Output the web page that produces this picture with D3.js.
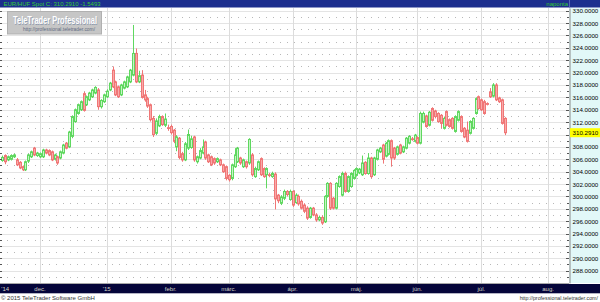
<!DOCTYPE html>
<html>
<head>
<meta charset="utf-8">
<script src="https://cdn.jsdelivr.net/npm/d3@7"></script>
<style>
    body { margin: 0; background: #fff; }
    svg { display: block; }
</style>
</head>
<body>
<div id="CandlestickChart"></div>
<script>
//----------data----------
var symbolName = "EUR/HUF Spot";
var lastQuote = "C: 310.2910 -1.5493";
var periodName = "naponta";
var lastPrice = 310.291;
var firstTradingDay = "2014-11-12";
var monthLabels = ["'14", "dec.", "'15", "febr.", "márc.", "ápr.", "máj.", "jún.", "júl.", "aug."];
var priceTicks = [288, 290, 292, 294, 296, 298, 300, 302, 304, 306, 308, 310, 312, 314, 316, 318, 320, 322, 324, 326, 328, 330];
var minorTicks = [287, 289, 291, 293, 295, 297, 299, 301, 303, 305, 307, 309, 311, 313, 315, 317, 319, 321, 323, 325, 327, 329];

var openPrice = [
    305.8, 306.6, 305.9, 306.0, 306.4, 305.9, 305.5, 304.8, 304.3, 305.7,
    306.4, 307.8, 306.6, 306.4, 306.4, 307.5, 307.4, 307.2, 306.0, 306.4,
    306.2, 307.0, 308.6, 308.0, 309.7, 312.1, 313.4, 314.0, 316.6, 314.8,
    315.6, 316.1, 316.7, 317.2, 314.5, 315.3, 316.1, 317.2, 320.4, 318.5,
    317.7, 316.4, 317.5, 317.7, 318.5, 319.6, 323.1, 318.5, 319.6, 316.4,
    315.8, 314.8, 312.6, 310.2, 311.4, 312.9, 311.5, 311.1, 311.3, 310.7,
    308.0, 309.4, 306.9, 305.9, 307.8, 307.9, 309.6, 305.6, 306.2, 307.0,
    308.8, 306.7, 306.4, 306.1, 305.6, 305.9, 305.1, 304.8, 303.4, 302.9,
    304.8, 305.6, 306.2, 304.8, 305.6, 305.4, 306.7, 303.2, 304.3, 306.1,
    304.5, 303.5, 303.5, 303.2, 303.6, 300.2, 298.9, 299.7, 300.8, 299.5,
    300.8, 299.0, 300.0, 299.2, 298.6, 298.1, 296.6, 298.1, 297.0, 296.2,
    296.6, 295.9, 300.0, 302.1, 299.7, 298.1, 301.6, 300.2, 303.7, 300.8,
    301.6, 302.9, 303.4, 303.8, 303.5, 305.5, 303.7, 306.2, 303.5, 306.0,
    307.2, 308.3, 306.5, 306.8, 309.0, 307.8, 306.8, 308.3, 307.2, 307.8,
    308.6, 309.3, 308.9, 309.5, 308.6, 312.0, 313.0, 311.5, 314.2, 313.8,
    313.4, 313.1, 311.0, 313.7, 312.4, 312.6, 310.5, 312.3, 312.9, 311.0,
    310.7, 310.2, 311.0, 313.4, 316.1, 315.6, 315.3, 315.0, 316.9, 316.2,
    318.0, 315.9, 315.6, 312.6
];
var highPrice = [
    306.6, 306.8, 306.6, 306.8, 306.9, 306.2, 305.7, 305.0, 305.8, 306.9,
    307.4, 308.0, 307.2, 307.1, 307.7, 307.7, 307.6, 307.4, 306.9, 306.6,
    307.4, 308.5, 308.8, 310.6, 313.1, 314.2, 315.0, 315.5, 316.9, 316.3,
    316.9, 317.4, 317.8, 317.5, 315.7, 316.6, 317.3, 318.5, 321.0, 318.7,
    317.9, 318.2, 318.7, 319.5, 320.6, 327.7, 323.9, 320.3, 320.4, 317.2,
    316.1, 315.0, 313.0, 312.6, 313.2, 313.1, 313.4, 311.6, 311.6, 310.9,
    309.9, 309.6, 307.2, 308.8, 310.8, 309.8, 309.8, 306.6, 307.8, 309.2,
    309.0, 306.9, 306.6, 306.3, 306.3, 306.1, 305.3, 305.0, 303.6, 305.3,
    307.8, 308.0, 306.4, 306.1, 305.8, 309.4, 307.0, 304.8, 305.8, 306.3,
    304.7, 304.7, 303.8, 304.0, 303.9, 300.4, 300.2, 301.1, 301.0, 301.1,
    301.0, 300.5, 300.3, 299.5, 298.9, 298.4, 298.3, 298.3, 297.3, 296.9,
    296.9, 300.2, 302.3, 302.3, 299.9, 302.3, 303.4, 304.0, 304.0, 303.4,
    303.9, 304.4, 304.7, 304.6, 306.6, 305.7, 307.0, 306.4, 306.4, 307.7,
    308.0, 308.5, 308.8, 309.2, 309.2, 308.0, 308.2, 308.5, 308.2, 309.6,
    309.9, 309.6, 310.1, 309.7, 313.7, 313.7, 313.2, 313.8, 314.4, 314.0,
    313.6, 313.3, 312.9, 313.9, 312.6, 312.8, 313.1, 313.9, 313.1, 311.2,
    312.1, 312.3, 312.8, 316.0, 316.3, 315.8, 315.6, 315.2, 317.5, 318.3,
    318.3, 316.1, 315.8, 312.8
];
var lowPrice = [
    305.6, 305.2, 305.7, 305.8, 306.2, 304.9, 304.4, 304.1, 304.1, 305.4,
    306.2, 306.5, 306.4, 306.2, 306.2, 306.8, 306.5, 305.7, 305.8, 305.1,
    306.0, 306.8, 307.6, 307.8, 309.4, 311.9, 313.2, 313.8, 313.7, 314.6,
    315.4, 315.9, 316.5, 314.0, 314.2, 315.1, 315.9, 317.0, 317.5, 316.2,
    315.9, 316.2, 317.3, 317.5, 318.3, 319.4, 318.3, 318.3, 315.8, 315.3,
    314.3, 312.1, 309.6, 309.9, 311.2, 311.4, 311.2, 310.6, 310.0, 308.6,
    307.3, 306.0, 305.6, 305.7, 307.5, 307.7, 305.6, 305.3, 306.0, 306.8,
    305.9, 305.4, 304.9, 305.1, 305.4, 304.9, 303.8, 302.6, 302.4, 302.6,
    304.6, 305.4, 305.1, 304.6, 304.5, 305.1, 303.2, 303.0, 304.1, 303.3,
    303.0, 301.3, 303.1, 303.0, 297.9, 298.9, 298.6, 299.4, 300.0, 299.3,
    298.3, 298.8, 298.5, 297.9, 297.3, 296.2, 296.4, 296.8, 295.9, 296.0,
    295.4, 295.7, 299.8, 297.8, 297.9, 297.9, 301.4, 300.0, 300.6, 300.6,
    301.4, 302.7, 303.2, 303.6, 303.3, 303.5, 303.5, 302.9, 303.3, 305.8,
    307.0, 305.3, 306.3, 306.6, 304.8, 305.9, 306.6, 306.8, 307.0, 307.6,
    308.4, 309.0, 308.7, 308.4, 308.4, 311.8, 311.1, 311.3, 312.1, 312.6,
    311.9, 311.0, 310.8, 311.3, 311.1, 310.8, 310.3, 312.1, 310.3, 309.4,
    308.7, 310.0, 310.8, 313.2, 314.0, 313.8, 313.2, 314.7, 315.9, 316.0,
    315.4, 315.1, 311.6, 309.9
];
var closePrice = [
    306.3, 305.6, 306.4, 306.6, 306.7, 305.1, 304.6, 304.3, 305.6, 306.7,
    307.2, 306.7, 307.0, 306.9, 307.5, 307.0, 306.7, 305.9, 306.7, 305.4,
    307.2, 308.3, 307.8, 310.4, 312.9, 314.0, 314.8, 315.3, 313.9, 316.1,
    316.7, 317.2, 317.6, 314.5, 315.5, 316.4, 317.0, 318.3, 317.7, 316.4,
    316.1, 318.0, 318.5, 319.3, 320.4, 323.1, 318.5, 319.5, 316.0, 315.6,
    314.6, 312.4, 310.0, 312.2, 312.9, 311.6, 312.5, 311.0, 310.3, 308.9,
    309.6, 306.3, 305.9, 308.5, 310.0, 309.3, 305.9, 306.4, 307.4, 308.0,
    306.2, 305.6, 305.1, 305.4, 306.1, 305.1, 304.0, 302.9, 302.7, 305.1,
    306.7, 307.8, 305.4, 305.9, 304.8, 309.2, 303.5, 304.5, 305.6, 303.5,
    303.2, 304.5, 303.4, 303.7, 299.6, 299.3, 299.9, 300.8, 300.3, 300.8,
    298.6, 300.2, 298.8, 298.1, 297.6, 296.5, 298.1, 297.0, 296.2, 296.6,
    295.7, 300.0, 302.1, 298.1, 298.1, 302.1, 303.2, 303.7, 300.8, 303.2,
    303.7, 304.2, 304.5, 304.4, 305.4, 303.7, 306.2, 303.2, 306.2, 307.5,
    307.8, 306.0, 308.6, 309.0, 306.2, 306.2, 308.0, 307.0, 308.0, 309.4,
    309.7, 309.2, 309.9, 308.6, 313.4, 313.4, 311.3, 313.6, 312.3, 312.9,
    312.1, 311.8, 312.6, 311.5, 311.3, 311.0, 312.9, 313.7, 310.5, 309.6,
    308.9, 312.1, 312.6, 315.8, 314.2, 314.0, 313.4, 314.9, 316.1, 318.0,
    315.6, 315.3, 311.8, 310.291
];

//----------layout----------
var W = 600, H = 302;
var plot = { left: 0, right: 569, top: 8, bottom: 283 };
var font = "'Liberation Sans', Arial, sans-serif";
var upStroke = "#5fd85f", upFill = "#c6f4c6";
var downStroke = "#f07676", downFill = "#f8aaaa";

// trading calendar (weekdays) covering the visible slots
var slotCount = 196;
var days = [];
var d = d3.timeParse("%Y-%m-%d")(firstTradingDay);
while (days.length < slotCount) {
    if (d.getDay() !== 0 && d.getDay() !== 6) days.push(d);
    d = d3.timeDay.offset(d, 1);
}
// first trading day of each month
var monthStarts = [0];
days.forEach(function (day, i) {
    if (i > 0 && day.getMonth() !== days[i - 1].getMonth()) monthStarts.push(i);
});

var data = closePrice.map(function (c, i) {
    return { i: i, date: days[i], open: openPrice[i], high: highPrice[i], low: lowPrice[i], close: c };
});

var x = d3.scaleLinear()
    .domain([-0.78, 195.2])
    .range([plot.left, plot.right]);
var y = d3.scaleLinear()
    .domain([286.01, 330.44])
    .range([plot.bottom, plot.top]);

var svg = d3.select("#CandlestickChart")
    .append("svg")
    .attr("width", W)
    .attr("height", H)
    .style("font-family", font);

svg.append("rect").attr("width", W).attr("height", H).attr("fill", "#fff");

function inPlot(v) { return y(v) > plot.top && y(v) < plot.bottom; }
function yPx(v) { return Math.round(y(v)) + 0.5; }

//----------grid----------
var grid = svg.append("g");
grid.selectAll("line.minor")
    .data(minorTicks.filter(inPlot))
    .enter().append("line")
    .attr("x1", plot.left).attr("x2", plot.right)
    .attr("y1", yPx).attr("y2", yPx)
    .attr("stroke", "#b8b8b8")
    .attr("stroke-dasharray", "1,6");
grid.selectAll("line.major")
    .data(priceTicks)
    .enter().append("line")
    .attr("x1", plot.left).attr("x2", plot.right)
    .attr("y1", yPx).attr("y2", yPx)
    .attr("stroke", "#e4e4e4");
grid.selectAll("line.month")
    .data(monthStarts.slice(1))
    .enter().append("line")
    .attr("x1", function (i) { return Math.round(x(i)) + 0.5; })
    .attr("x2", function (i) { return Math.round(x(i)) + 0.5; })
    .attr("y1", plot.top).attr("y2", plot.bottom)
    .attr("stroke", "#dcdcdc");

//----------logo----------
var logo = svg.append("g");
logo.append("rect")
    .attr("x", 7.5).attr("y", 11.5).attr("width", 94).attr("height", 22.5)
    .attr("fill", "#c6c6c6").attr("stroke", "#b0b0b0");
logo.append("text")
    .attr("x", 13.6).attr("y", 24.6)
    .attr("font-size", 11).attr("font-weight", "bold")
    .attr("textLength", 84).attr("lengthAdjust", "spacingAndGlyphs")
    .attr("fill", "#8e9aae")
    .text("TeleTrader Professional");
logo.append("text")
    .attr("x", 13).attr("y", 24)
    .attr("font-size", 11).attr("font-weight", "bold")
    .attr("textLength", 84).attr("lengthAdjust", "spacingAndGlyphs")
    .attr("fill", "#ffffff")
    .text("TeleTrader Professional");
logo.append("text")
    .attr("x", 23).attr("y", 30.5)
    .attr("font-size", 5)
    .attr("textLength", 72).attr("lengthAdjust", "spacingAndGlyphs")
    .attr("fill", "#5e6a80")
    .text("http://professional.teletrader.com/");

//----------candles----------
var candle = svg.append("g").selectAll("g")
    .data(data)
    .enter().append("g");
candle.append("line")
    .attr("x1", function (d) { return Math.round(x(d.i)) + 0.5; })
    .attr("x2", function (d) { return Math.round(x(d.i)) + 0.5; })
    .attr("y1", function (d) { return y(d.high); })
    .attr("y2", function (d) { return y(d.low); })
    .attr("stroke", function (d) { return d.close >= d.open ? upStroke : downStroke; });
candle.append("rect")
    .attr("x", function (d) { return Math.round(x(d.i)) - 0.5; })
    .attr("width", 2)
    .attr("y", function (d) { return y(Math.max(d.open, d.close)); })
    .attr("height", function (d) { return Math.max(0.8, Math.abs(y(d.open) - y(d.close))); })
    .attr("fill", function (d) { return d.close >= d.open ? upFill : downFill; })
    .attr("stroke", function (d) { return d.close >= d.open ? upStroke : downStroke; })
    .attr("stroke-width", 1);

//----------left edge ticks----------
svg.append("g").selectAll("line")
    .data(priceTicks.concat(minorTicks).filter(inPlot))
    .enter().append("line")
    .attr("x1", 0).attr("x2", 2)
    .attr("y1", yPx).attr("y2", yPx)
    .attr("stroke", "#555");

//----------right price axis----------
svg.append("rect")
    .attr("x", plot.right).attr("y", plot.top)
    .attr("width", W - plot.right).attr("height", plot.bottom - plot.top)
    .attr("fill", "#e2f8f8");
// labels hidden under the last price tag are left out
var yAxis = d3.axisRight(y)
    .tickValues(priceTicks.filter(function (v) { return Math.abs(y(v) - y(lastPrice)) > 7; }))
    .tickSize(0)
    .tickPadding(3)
    .tickFormat(d3.format(".4f"));
var axisG = svg.append("g")
    .attr("transform", "translate(" + (plot.right + 0.5) + ",0)")
    .call(yAxis);
axisG.select(".domain").attr("stroke", "#8a8a8a");
axisG.selectAll("text")
    .attr("font-family", font)
    .attr("font-size", 6.2)
    .attr("fill", "#000");
svg.append("g").selectAll("line")
    .data(priceTicks.concat(minorTicks).filter(inPlot))
    .enter().append("line")
    .attr("x1", function (v) { return priceTicks.indexOf(v) >= 0 ? plot.right - 3 : plot.right - 2; })
    .attr("x2", plot.right)
    .attr("y1", yPx).attr("y2", yPx)
    .attr("stroke", "#555");

// last price tag
svg.append("rect")
    .attr("x", plot.right + 1).attr("y", y(lastPrice) - 4.5)
    .attr("width", W - plot.right - 1).attr("height", 9)
    .attr("fill", "#ffff00");
svg.append("text")
    .attr("x", plot.right + 3.5).attr("y", y(lastPrice))
    .attr("dy", "0.35em")
    .attr("font-size", 6.2)
    .attr("fill", "#000")
    .text(d3.format(".4f")(lastPrice));

//----------header bar----------
svg.append("rect")
    .attr("x", 0).attr("y", 0).attr("width", W).attr("height", 7.5)
    .attr("fill", "#1d2f8e");
svg.append("line")
    .attr("x1", plot.right + 0.5).attr("x2", plot.right + 0.5)
    .attr("y1", 0).attr("y2", 7.5)
    .attr("stroke", "#5566b8");
var head = svg.append("text")
    .attr("x", 3.5).attr("y", 6.4)
    .attr("font-size", 6)
    .attr("fill", "#33cc33");
head.append("tspan").text(symbolName + " ");
head.append("tspan").text(lastQuote);
svg.append("text")
    .attr("x", 568).attr("y", 6.4)
    .attr("text-anchor", "end")
    .attr("font-size", 6)
    .attr("fill", "#33cc33")
    .text(periodName);

//----------time axis bar----------
svg.append("line")
    .attr("x1", 0).attr("x2", plot.right)
    .attr("y1", plot.bottom + 0.5).attr("y2", plot.bottom + 0.5)
    .attr("stroke", "#a8a8a8");
svg.append("rect")
    .attr("x", 0).attr("y", 284).attr("width", W).attr("height", 9.3)
    .attr("fill", "#05053a");
svg.append("g").selectAll("text")
    .data(monthStarts)
    .enter().append("text")
    .attr("x", function (i, k) { return k === 0 ? x(i) - 1 : x(i); })
    .attr("y", 291.3)
    .attr("text-anchor", function (i, k) { return k === 0 ? "start" : "middle"; })
    .attr("font-size", 6)
    .attr("fill", "#d4d4c4")
    .text(function (i, k) { return monthLabels[k]; });

//----------footer----------
svg.append("text")
    .attr("x", 1).attr("y", 300)
    .attr("font-size", 6)
    .attr("fill", "#333")
    .text("© 2015 TeleTrader Software GmbH");
svg.append("text")
    .attr("x", 598).attr("y", 300)
    .attr("text-anchor", "end")
    .attr("font-size", 5.3)
    .attr("fill", "#333")
    .text("http://professional.teletrader.com/");
</script>
</body>
</html>
